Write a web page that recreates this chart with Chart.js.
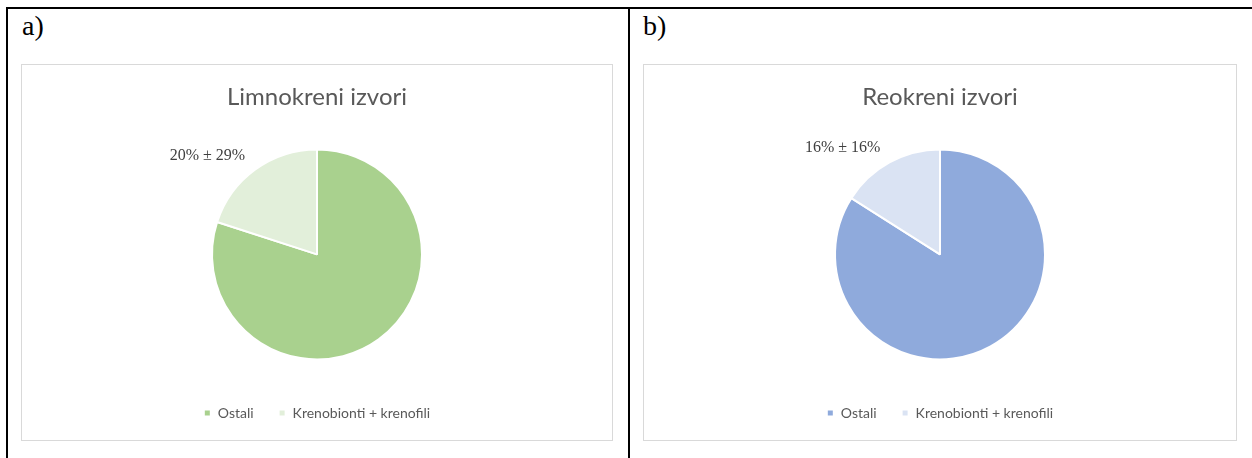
<!DOCTYPE html>
<html>
<head>
<meta charset="utf-8">
<script src="https://cdn.jsdelivr.net/npm/chart.js@4.4.0/dist/chart.umd.min.js"></script>
<style>
  body { margin: 0; background: #fff; width: 1252px; height: 458px; overflow: hidden; position: relative; }
  .frame { position: absolute; left: 6px; top: 7px; width: 1300px; height: 500px; border-top: 2px solid #000; border-left: 2px solid #000; }
  .divider { position: absolute; left: 628px; top: 7px; width: 2px; height: 500px; background: #000; }
  .tag { position: absolute; font-family: "Liberation Serif", "Times New Roman", serif; font-size: 28px; color: #000; }
  .box { position: absolute; top: 64px; height: 375px; border: 1px solid #d9d9d9; background: #fff; }
</style>
</head>
<body>
<div class="frame"></div>
<div class="divider"></div>
<div class="tag" style="left:22px; top:10px;">a)</div>
<div class="tag" style="left:643px; top:10px;">b)</div>
<div class="box" style="left:21px; width:590px;"><canvas id="chartA"></canvas></div>
<div class="box" style="left:643px; width:592px;"><canvas id="chartB"></canvas></div>
<script>
// categories
const categories = ['Ostali', 'Krenobionti + krenofili'];

// a) Limnokreni izvori
const limnoTitle = 'Limnokreni izvori';
const limnoPct = [80, 20];
const limnoSd = [null, 29];
const limnoColors = ['#A9D18E', '#E2EFDA'];

// b) Reokreni izvori
const reoTitle = 'Reokreni izvori';
const reoPct = [84, 16];
const reoSd = [null, 16];
const reoColors = ['#8FAADC', '#DAE3F3'];

const sansFont = 'Lato, "Open Sans", sans-serif';

// label for the small slice, drawn outside the pie like excel's best fit
const sliceLabels = {
  id: 'sliceLabels',
  afterDatasetsDraw(chart, args, opts) {
    const ctx = chart.ctx;
    const meta = chart.getDatasetMeta(0);
    meta.data.forEach((arc, i) => {
      if (opts.sd[i] == null) return;
      const p = arc.getProps(['x', 'y', 'startAngle', 'endAngle', 'outerRadius'], true);
      const mid = (p.startAngle + p.endAngle) / 2;
      const r = p.outerRadius * 1.1;
      const tx = p.x + Math.cos(mid) * r - 4;
      const ty = p.y + Math.sin(mid) * r + 3;
      ctx.save();
      ctx.font = '16px "Liberation Serif", "Times New Roman", serif';
      ctx.fillStyle = '#404040';
      ctx.textAlign = 'right';
      ctx.textBaseline = 'bottom';
      ctx.fillText(opts.pct[i] + '% \u00B1 ' + opts.sd[i] + '%', tx, ty);
      ctx.restore();
    });
  }
};

function makePie(id, title, pct, sd, colors) {
  const ctx = document.getElementById(id);
  return new Chart(ctx, {
    type: 'pie',
    data: {
      labels: categories,
      datasets: [{
        data: pct,
        backgroundColor: colors,
        borderColor: '#ffffff',
        borderWidth: 2
      }]
    },
    options: {
      responsive: true,
      maintainAspectRatio: false,
      animation: false,
      radius: 105,
      layout: { padding: { top: 0, bottom: 10, left: 0, right: 0 } },
      plugins: {
        title: {
          display: true,
          text: title,
          color: '#595959',
          font: { family: sansFont, size: 24, weight: 'normal' },
          padding: { top: 18, bottom: 16 }
        },
        legend: {
          position: 'bottom',
          labels: {
            color: '#595959',
            font: { family: sansFont, size: 14 },
            boxWidth: 7,
            boxHeight: 7,
            padding: 25
          }
        },
        tooltip: { enabled: false },
        sliceLabels: { pct: pct, sd: sd }
      }
    },
    plugins: [sliceLabels]
  });
}

makePie('chartA', limnoTitle, limnoPct, limnoSd, limnoColors);
makePie('chartB', reoTitle, reoPct, reoSd, reoColors);
</script>
</body>
</html>
